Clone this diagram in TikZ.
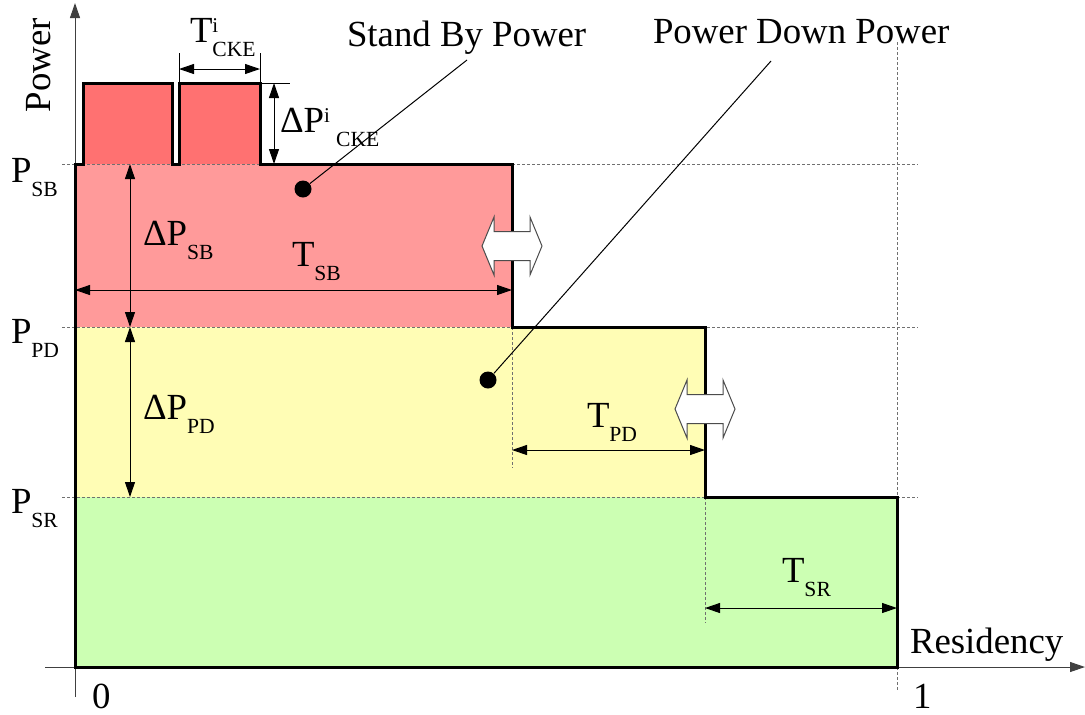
\documentclass[tikz,border=0pt]{standalone}
\usepackage{fontspec}
\setmainfont{Liberation Serif}
\usetikzlibrary{arrows.meta,calc}
\definecolor{pulseRed}{HTML}{FF7171}
\definecolor{sbRed}{HTML}{FF9A9A}
\definecolor{pdYellow}{HTML}{FFFDB5}
\definecolor{srGreen}{HTML}{CCFFB3}
\definecolor{guideGray}{HTML}{707070}
\newcommand{\lowsub}[1]{\raisebox{-7pt}{\fontsize{10.8}{11}\selectfont #1}}
\newcommand{\hisup}[1]{\raisebox{5pt}{\fontsize{10.5}{11}\selectfont #1}}
\tikzset{
  plotA/.style={
    font=\fontsize{18.4}{20}\selectfont,
    line join=miter,
  },
  lbl/.style={anchor=base west, inner sep=0pt, outer sep=0pt},
  stepOutline/.style={draw=black, line width=1.5pt, line join=miter},
  axisLine/.style={-{Triangle[length=7.5pt, width=5pt]}, draw=black!75, line width=0.5pt},
  dimArrow/.style={{Triangle[length=7.5pt, width=5pt]}-{Triangle[length=7.5pt, width=5pt]},
    black, line width=0.5pt},
  extLine/.style={black, line width=0.4pt},
  levelGuide/.style={guideGray, line width=0.5pt, dash pattern=on 1.5pt off 1pt},
  leader/.style={black, line width=0.5pt},
  keyDot/.style={circle, fill=black, minimum size=8.5pt, inner sep=0pt},
  swapArrow/.style={draw=black!70, fill=white, line width=0.5pt},
}

\begin{document}
\begin{tikzpicture}[plotA, x=0.5pt, y=-0.5pt]

\useasboundingbox (0,0) rectangle (1085,714);

% ============================================================
% Levels and residency steps (pixel grid, y grows downward)
% ============================================================
\def\xO{75}
\def\xSB{512}
\def\xPD{705}
\def\xSR{897}
\def\yPulse{83}
\def\ySB{164}
\def\yPD{327}
\def\ySR{497}
\def\yBase{667}

% coloured bands
\fill[srGreen]  (\xO,\ySR) rectangle (\xSR,\yBase);
\fill[pdYellow] (\xO,\yPD) rectangle (\xPD,\ySR);
\fill[sbRed]    (\xO,\ySB) rectangle (\xSB,\yPD);
\fill[pulseRed] (83,\yPulse) rectangle (172,\ySB);
\fill[pulseRed] (179,\yPulse) rectangle (260,\ySB);

% dashed guides
\foreach \yy in {\ySB,\yPD,\ySR}
  \draw[levelGuide] (62,\yy) -- (918,\yy);
\draw[levelGuide] (\xSB,\yPD) -- (\xSB,468);
\draw[levelGuide] (\xPD,\ySR) -- (\xPD,623);
\draw[levelGuide] (\xSR,42) -- (\xSR,690);

% axes
\draw[axisLine] (\xO,697) -- (\xO,3);
\draw[axisLine] (45,\yBase) -- (1085,\yBase);

% thick staircase outline with the two CKE pulses
\draw[stepOutline]
  (\xO,\yBase) -- (\xO,\ySB) -- (83,\ySB) -- (83,\yPulse) -- (172,\yPulse)
  -- (172,\ySB) -- (179,\ySB) -- (179,\yPulse) -- (260,\yPulse) -- (260,\ySB)
  -- (\xSB,\ySB) -- (\xSB,\yPD) -- (\xPD,\yPD) -- (\xPD,\ySR)
  -- (\xSR,\ySR) -- (\xSR,\yBase) -- cycle;

% ============================================================
% Axis and level labels
% ============================================================
\node[lbl, rotate=90] (powerLbl) at (50,112) {Power};
\node[lbl] (resLbl)  at (910,653) {Residency};
\node[lbl] (zeroLbl) at (92,708)  {0};
\node[lbl] (oneLbl)  at (913,708) {1};

\node[lbl] (pSBLbl) at (11,182) {P\lowsub{SB}};
\node[lbl] (pPDLbl) at (11,343) {P\lowsub{PD}};
\node[lbl] (pSRLbl) at (11,513) {P\lowsub{SR}};

% ============================================================
% CKE pulse dimensions
% ============================================================
\draw[extLine] (179,\yPulse) -- (179,53);
\draw[extLine] (260,\yPulse) -- (260,53);
\draw[extLine] (260,\yPulse) -- (290,\yPulse);

\coordinate (ckeL) at (179,69);
\coordinate (ckeR) at (260,69);
\draw[dimArrow] (ckeL) -- (ckeR);
\node[lbl] (tCkeLbl) at (190,42) {T\rlap{\hisup{i}}\lowsub{CKE}};

\coordinate (ckeTop) at (274,\yPulse);
\coordinate (ckeBot) at (274,\ySB);
\draw[dimArrow] (ckeTop) -- (ckeBot);
\node[lbl] (dCkeLbl) at (280,132) {ΔP\hisup{i}\,\lowsub{CKE}};

% ============================================================
% Power deltas and residency times
% ============================================================
\coordinate (dSBtop) at (130,\ySB);
\coordinate (dSBbot) at (130,\yPD);
\coordinate (dPDbot) at (130,\ySR);
\draw[dimArrow] (dSBtop) -- (dSBbot);
\draw[dimArrow] (dSBbot) -- (dPDbot);
\node[lbl] (dSBLbl) at (143,245) {ΔP\lowsub{SB}};
\node[lbl] (dPDLbl) at (143,419) {ΔP\lowsub{PD}};

\coordinate (tSBl) at (\xO,290);
\coordinate (tSBr) at (\xSB,290);
\draw[dimArrow] (tSBl) -- (tSBr);
\node[lbl] (tSBLbl) at (292,266) {T\lowsub{SB}};

\coordinate (tPDl) at (\xSB,450);
\coordinate (tPDr) at (\xPD,450);
\draw[dimArrow] (tPDl) -- (tPDr);
\node[lbl] (tPDLbl) at (587,427) {T\lowsub{PD}};

\coordinate (tSRl) at (\xPD,608);
\coordinate (tSRr) at (\xSR,608);
\draw[dimArrow] (tSRl) -- (tSRr);
\node[lbl] (tSRLbl) at (782,582) {T\lowsub{SR}};

% movable boundaries
\foreach \cx/\cy in {\xSB/246, \xPD/409}
  \draw[swapArrow]
    (\cx-30,\cy) -- (\cx-18,\cy-29) -- (\cx-18,\cy-14.5) -- (\cx+18,\cy-14.5)
    -- (\cx+18,\cy-29) -- (\cx+30,\cy) -- (\cx+18,\cy+29) -- (\cx+18,\cy+14.5)
    -- (\cx-18,\cy+14.5) -- (\cx-18,\cy+29) -- cycle;

% ============================================================
% Callouts
% ============================================================
\node[keyDot] (sbDot) at (303,189) {};
\coordinate (sbTip) at (467,60);
\draw[leader] (sbDot) -- (sbTip);
\node[lbl] (sbName) at (347,46) {Stand By Power};

\node[keyDot] (pdDot) at (488,380) {};
\coordinate (pdTip) at (771,61);
\draw[leader] (pdDot) -- (pdTip);
\node[lbl] (pdName) at (653,43) {Power Down Power};

\end{tikzpicture}
\end{document}
